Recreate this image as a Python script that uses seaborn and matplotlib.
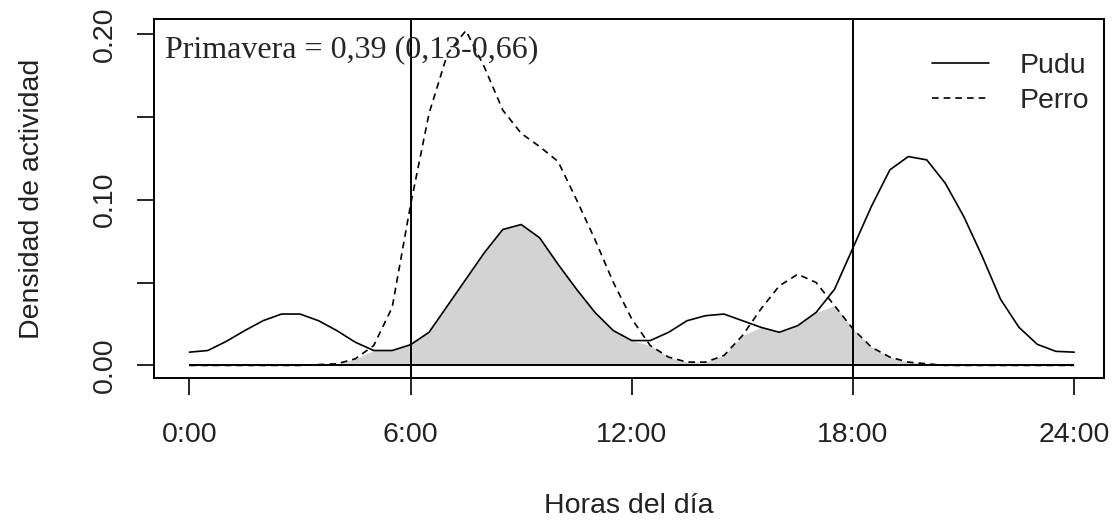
import numpy as np
import pandas as pd
import matplotlib
matplotlib.use("Agg")
import matplotlib.pyplot as plt
import seaborn as sns

# hours of the day, every half hour
hours = np.arange(0, 24.5, 0.5)

# activity density
pudu = [0.008, 0.009, 0.0145, 0.021, 0.027, 0.031, 0.031, 0.027, 0.021, 0.014,
        0.009, 0.009, 0.0125, 0.02, 0.036, 0.052, 0.068, 0.082, 0.085, 0.077,
        0.061, 0.046, 0.032, 0.021, 0.015, 0.015, 0.02, 0.027, 0.030, 0.031,
        0.027, 0.023, 0.020, 0.024, 0.032, 0.046, 0.071, 0.096, 0.118, 0.126,
        0.124, 0.11, 0.09, 0.066, 0.040, 0.023, 0.0127, 0.0085, 0.008]
perro = [0, 0, 0, 0, 0, 0, 0, 0.0005, 0.001, 0.004,
         0.012, 0.035, 0.097, 0.152, 0.188, 0.202, 0.18, 0.154, 0.14, 0.132,
         0.123, 0.10, 0.076, 0.05, 0.028, 0.012, 0.005, 0.002, 0.002, 0.006,
         0.018, 0.034, 0.048, 0.055, 0.05, 0.036, 0.022, 0.011, 0.005, 0.002,
         0.001, 0, 0, 0, 0, 0, 0, 0, 0]

x_ticks = [0, 6, 12, 18, 24]
x_labels = ["0:00", "6:00", "12:00", "18:00", "24:00"]
y_ticks = [0.0, 0.05, 0.10, 0.15, 0.20]
y_labels = ["0.00", "", "0.10", "", "0.20"]
day_limits = [6, 18]
overlap_text = "Primavera = 0,39 (0,13-0,66)"

df = pd.DataFrame({"hora": hours, "Pudu": pudu, "Perro": perro})

sns.set_style("white")
plt.rcParams["font.family"] = ["Liberation Sans", "DejaVu Sans"]

fig = plt.figure(figsize=(11.16, 5.27), dpi=100)
ax = fig.add_axes([0.138, 0.283, 0.851, 0.681])

# overlap area
ax.fill_between(df["hora"], 0, np.minimum(df["Pudu"], df["Perro"]),
                color="#d3d3d3", linewidth=0)
ax.hlines(0, df["hora"].min(), df["hora"].max(), color="black", linewidth=1.4)

sns.lineplot(data=df, x="hora", y="Pudu", ax=ax, color="black",
             linewidth=1.2, label="Pudu")
sns.lineplot(data=df, x="hora", y="Perro", ax=ax, color="black",
             linewidth=1.2, linestyle=(0, (4, 3)), label="Perro")

for h in day_limits:
    ax.axvline(h, color="black", linewidth=1.4)

ax.set_xlim(-0.96, 24.8)
ax.set_ylim(-0.0075, 0.209)
ax.set_xticks(x_ticks)
ax.set_xticklabels(x_labels)
ax.set_yticks(y_ticks)
ax.set_yticklabels(y_labels, rotation=90, va="center")
ax.tick_params(axis="both", direction="out", length=12, width=1.2,
               labelsize=20.5, color="black", labelcolor="#222222",
               bottom=True, left=True)
ax.tick_params(axis="x", pad=20)
ax.tick_params(axis="y", pad=14)
ax.set_xlabel("Horas del día", fontsize=20.5, color="#222222", labelpad=32)
ax.set_ylabel("Densidad de actividad", fontsize=20.5, color="#222222",
              labelpad=34)

for s in ax.spines.values():
    s.set_color("black")
    s.set_linewidth(1.4)
    s.set_visible(True)

ax.text(0.012, 0.955, overlap_text, transform=ax.transAxes, ha="left",
        va="top", fontsize=23, family=["Liberation Serif", "DejaVu Serif"])

ax.legend(loc="upper right", bbox_to_anchor=(1.0, 0.944), frameon=False,
          fontsize=20.5, handlelength=2.0, handletextpad=1.1,
          labelspacing=0.3, borderaxespad=0.1)

fig.savefig("out.png", dpi=100)
